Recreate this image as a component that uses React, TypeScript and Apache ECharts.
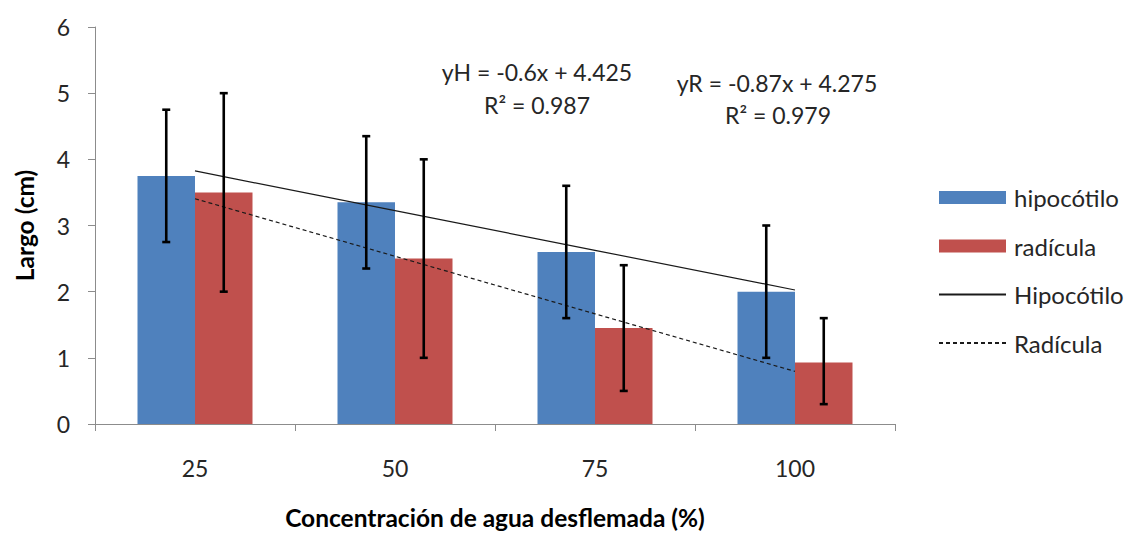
import React, { useEffect, useRef } from "react";
import * as echarts from "echarts";

const categories = ["25", "50", "75", "100"];
const hipocotilo = [3.75, 3.35, 2.6, 2.0];
const radicula = [3.5, 2.5, 1.45, 0.93];
const hipoErrLow = [2.75, 2.35, 1.6, 1.0];
const hipoErrHigh = [4.75, 4.35, 3.6, 3.0];
const radErrLow = [2.0, 1.0, 0.5, 0.3];
const radErrHigh = [5.0, 4.0, 2.4, 1.6];
const trendH = [3.825, 3.225, 2.625, 2.025];
const trendR = [3.405, 2.535, 1.665, 0.795];
const eqH = ["yH = -0.6x + 4.425", "R² = 0.987"];
const eqR = ["yR = -0.87x + 4.275", "R² = 0.979"];

const FONT = "Lato, 'Open Sans', sans-serif";
const TXT = "#262626";
const BAR_FRAC = 0.2875;
const FS = 23;

function errSeries(low: number[], high: number[], side: number) {
  return {
    type: "custom",
    silent: true,
    z: 10,
    data: low.map((l, i) => [i, l, high[i]]),
    renderItem: (params: any, api: any) => {
      const band = api.size([1, 0])[0];
      const off = (side * band * BAR_FRAC) / 2;
      const lo = api.coord([api.value(0), api.value(1)]);
      const hi = api.coord([api.value(0), api.value(2)]);
      const x = lo[0] + off;
      const cap = 4;
      const style = { stroke: "#000", lineWidth: 2.6 };
      return {
        type: "group",
        children: [
          { type: "line", shape: { x1: x, y1: lo[1], x2: x, y2: hi[1] }, style },
          { type: "line", shape: { x1: x - cap, y1: lo[1], x2: x + cap, y2: lo[1] }, style },
          { type: "line", shape: { x1: x - cap, y1: hi[1], x2: x + cap, y2: hi[1] }, style },
        ],
      };
    },
  };
}

export default function App() {
  const ref = useRef<HTMLDivElement>(null);
  useEffect(() => {
    if (!ref.current) return;
    const chart = echarts.init(ref.current, null, { renderer: "svg" });
    const axisLine = { show: true, lineStyle: { color: "#8c8c8c", width: 1 } };
    const txt = (x: number, y: number, s: string) => ({
      type: "text",
      x,
      y,
      style: { text: s, fontSize: FS, fill: TXT, fontFamily: FONT, align: "center", verticalAlign: "middle" },
    });
    chart.setOption({
      animation: false,
      textStyle: { fontFamily: FONT, color: TXT },
      grid: { left: 95, right: 233, top: 27, bottom: 102, containLabel: false },
      legend: {
        orient: "vertical",
        left: 938,
        top: 185.5,
        padding: 0,
        itemWidth: 67,
        itemHeight: 13,
        itemGap: 24.5,
        textStyle: { fontSize: 24, lineHeight: 24, color: TXT, fontFamily: FONT, padding: [0, 0, 0, 3] },
        data: [
          { name: "hipocótilo", icon: "rect" },
          { name: "radícula", icon: "rect" },
          { name: "Hipocótilo", itemStyle: { opacity: 0 } },
          { name: "Radícula", itemStyle: { opacity: 0 } },
        ],
      },
      xAxis: {
        type: "category",
        data: categories,
        name: "Concentración de agua desflemada (%)",
        nameLocation: "middle",
        nameGap: 81,
        nameTextStyle: { fontSize: 24.5, fontWeight: "bold", color: "#000", fontFamily: FONT },
        axisLine,
        axisTick: { show: true, length: 7, inside: false, lineStyle: { color: "#8c8c8c" } },
        axisLabel: { fontSize: FS, color: TXT, margin: 32, fontFamily: FONT },
      },
      yAxis: {
        type: "value",
        min: 0,
        max: 6,
        interval: 1,
        name: "Largo (cm)",
        nameLocation: "middle",
        nameGap: 58,
        nameTextStyle: { fontSize: 24.5, fontWeight: "bold", color: "#000", fontFamily: FONT },
        axisLine,
        axisTick: { show: true, length: 7, lineStyle: { color: "#8c8c8c" } },
        axisLabel: { fontSize: FS, color: TXT, margin: 25, fontFamily: FONT },
        splitLine: { show: false },
      },
      series: [
        {
          name: "hipocótilo",
          type: "bar",
          data: hipocotilo,
          barWidth: BAR_FRAC * 100 + "%",
          barGap: "0%",
          itemStyle: { color: "#4f81bd" },
        },
        {
          name: "radícula",
          type: "bar",
          data: radicula,
          barWidth: BAR_FRAC * 100 + "%",
          barGap: "0%",
          itemStyle: { color: "#c0504d" },
        },
        errSeries(hipoErrLow, hipoErrHigh, -1),
        errSeries(radErrLow, radErrHigh, 1),
        {
          name: "Hipocótilo",
          type: "line",
          data: trendH,
          symbol: "none",
          z: 5,
          lineStyle: { color: "#1a1a1a", width: 1.2, type: "solid" },
          itemStyle: { color: "#1a1a1a" },
        },
        {
          name: "Radícula",
          type: "line",
          data: trendR,
          symbol: "none",
          z: 5,
          lineStyle: { color: "#1a1a1a", width: 1.2, type: [4, 3] },
          itemStyle: { color: "#1a1a1a" },
        },
      ],
      graphic: [
        txt(537, 72, eqH[0]),
        txt(537, 105, eqH[1]),
        txt(777, 83, eqR[0]),
        txt(778, 115, eqR[1]),
      ],
    });
    return () => chart.dispose();
  }, []);
  return <div ref={ref} style={{ width: 1128, height: 535, position: "absolute", left: 0, top: 0 }} />;
}
